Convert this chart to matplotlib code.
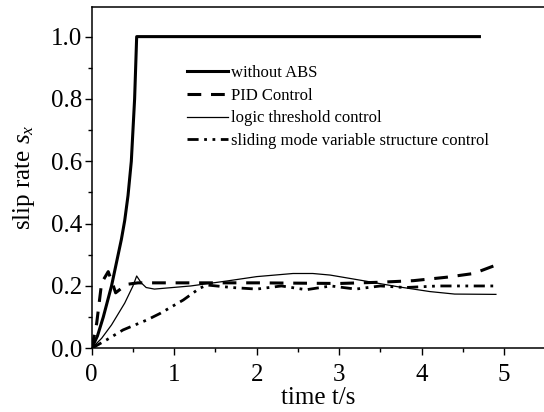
import numpy as np
import matplotlib
matplotlib.use("Agg")
import matplotlib.pyplot as plt
from matplotlib.ticker import MultipleLocator

plt.rcParams['font.family'] = ['Liberation Serif', 'DejaVu Serif']
plt.rcParams['mathtext.fontset'] = 'custom'
plt.rcParams['mathtext.rm'] = 'Liberation Serif'
plt.rcParams['mathtext.it'] = 'Liberation Serif:italic'

# values
t_noabs = [0, 0.07, 0.14, 0.20, 0.24, 0.28, 0.32, 0.36, 0.40, 0.44, 0.48, 0.50, 0.52, 0.545, 4.7]
s_noabs = [0, 0.04, 0.10, 0.16, 0.20, 0.25, 0.30, 0.35, 0.41, 0.49, 0.60, 0.70, 0.80, 1.0, 1.0]

t_pid = [0, 0.06, 0.12, 0.20, 0.25, 0.29, 0.42, 0.56, 1.0, 2.0, 3.0, 3.5, 3.9, 4.3, 4.63, 4.87]
s_pid = [0, 0.08, 0.21, 0.246, 0.21, 0.178, 0.205, 0.21, 0.21, 0.21, 0.208, 0.212, 0.217, 0.228, 0.24, 0.264]

t_logic = [0, 0.12, 0.24, 0.40, 0.50, 0.545, 0.60, 0.66, 0.76, 1.2, 1.64, 2.0, 2.44, 2.68, 2.89,
           3.29, 3.7, 4.1, 4.4, 4.9]
s_logic = [0, 0.032, 0.075, 0.145, 0.2, 0.232, 0.21, 0.195, 0.19, 0.2, 0.216, 0.23, 0.24, 0.24, 0.235,
           0.217, 0.198, 0.182, 0.174, 0.173]

t_smc = [0, 0.18, 0.38, 0.67, 0.83, 1.11, 1.31, 1.4, 1.7, 2.0, 2.3, 2.6, 2.9, 3.2, 3.5, 3.8, 4.2,
         4.6, 4.9]
s_smc = [0, 0.027, 0.059, 0.091, 0.112, 0.155, 0.193, 0.203, 0.195, 0.19, 0.2, 0.188, 0.2, 0.19,
         0.2, 0.195, 0.2, 0.2, 0.2]

labels = ["without ABS", "PID Control", "logic threshold control",
          "sliding mode variable structure control"]

fig = plt.figure(figsize=(5.44, 4.12), dpi=100)
ax = fig.add_axes([0.1686, 0.1546, 0.834, 0.8284])

ax.plot(t_noabs, s_noabs, color='black', lw=2.2, label=labels[0])
ax.plot(t_pid, s_pid, color='black', lw=2.2, ls=(0, (4.5, 3.2)), label=labels[1])
ax.plot(t_logic, s_logic, color='black', lw=0.9, label=labels[2])
ax.plot(t_smc, s_smc, color='black', lw=2.0, ls=(0, (4, 2, 1, 2, 1, 2)), label=labels[3])

ax.set_xlim(0, 5.5)
ax.set_ylim(0, 1.095)
ax.xaxis.set_major_locator(MultipleLocator(1))
ax.xaxis.set_minor_locator(MultipleLocator(0.5))
ax.yaxis.set_major_locator(MultipleLocator(0.2))
ax.yaxis.set_minor_locator(MultipleLocator(0.1))
ax.yaxis.set_major_formatter(plt.FormatStrFormatter('%.1f'))
ax.tick_params(which='major', direction='out', length=5, width=1, labelsize=18)
ax.tick_params(axis='x', which='major', pad=6)
ax.tick_params(axis='y', which='major', pad=2)
ax.tick_params(which='minor', direction='out', length=3, width=1)
ax.tick_params(top=False, right=False)
ax.spines['right'].set_visible(False)
for sp in ax.spines.values():
    sp.set_linewidth(1.1)

ax.set_xlabel("time t/s", fontsize=18, labelpad=1)
ax.set_ylabel("slip rate $s_x$", fontsize=18, labelpad=10)

ax.legend(loc='upper left', bbox_to_anchor=(0.21, 0.830), frameon=False, fontsize=12,
          handlelength=2.45, handletextpad=0.2, labelspacing=0.40, borderpad=0, borderaxespad=0)

fig.savefig("out.png", dpi=100)
